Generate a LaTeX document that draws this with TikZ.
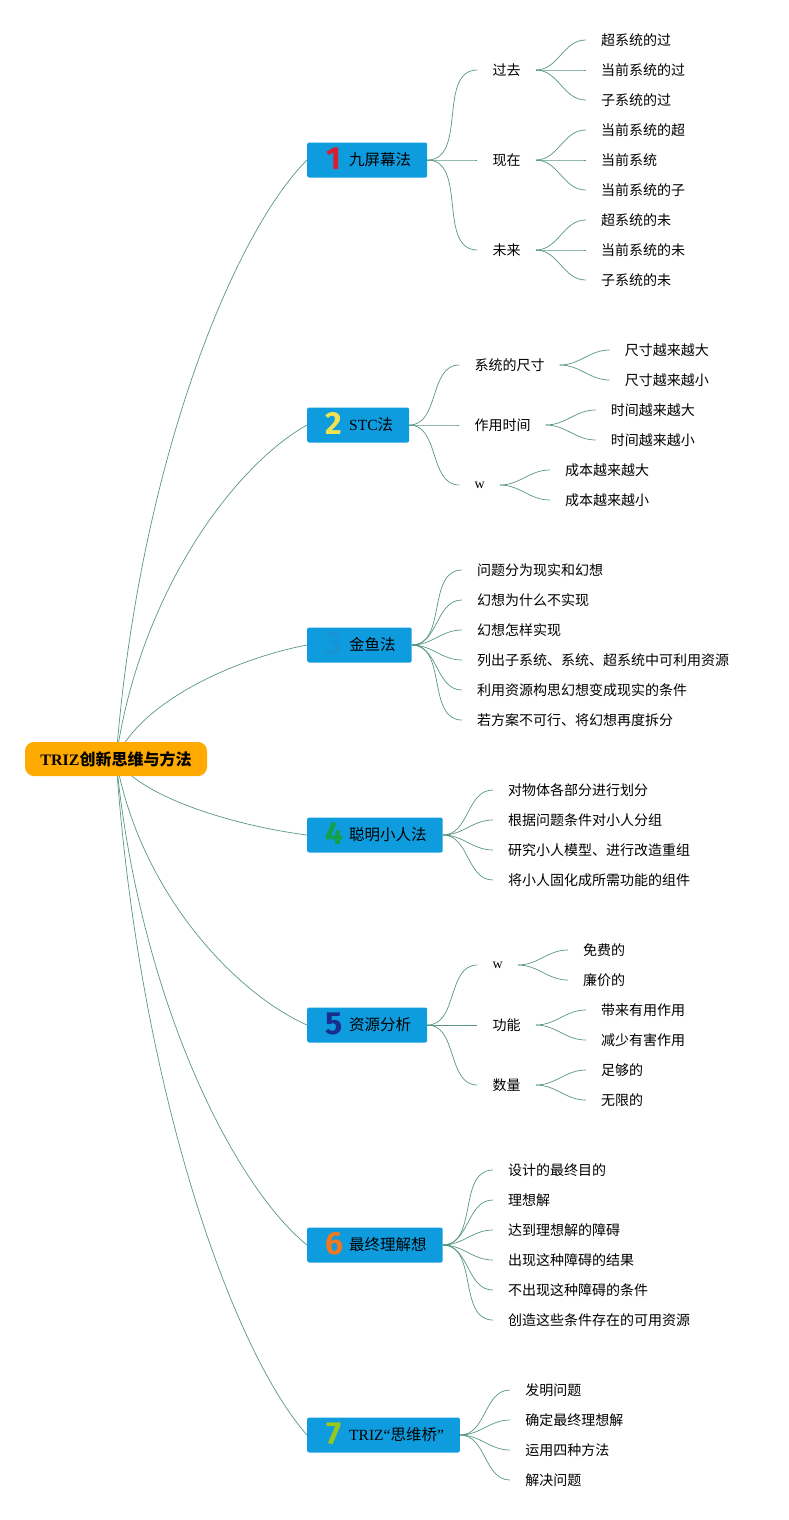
\documentclass[tikz,border=0pt]{standalone}
\usepackage{fontspec}
\setmainfont{Liberation Serif}
\newfontfamily\cjk{Noto Sans CJK SC}
\newfontfamily\numfont{Fira Sans}
\usetikzlibrary{calc,backgrounds}

\definecolor{linkc}{RGB}{88,150,128}
\definecolor{rootc}{RGB}{255,170,0}
\definecolor{boxc}{RGB}{14,156,222}
\definecolor{n1}{RGB}{214,32,48}
\definecolor{n2}{RGB}{240,226,80}
\definecolor{n3}{RGB}{22,148,214}
\definecolor{n4}{RGB}{20,160,70}
\definecolor{n5}{RGB}{25,45,140}
\definecolor{n6}{RGB}{240,120,30}
\definecolor{n7}{RGB}{150,200,30}

\newcommand\badge[2]{\makebox[22pt]{\smash{\raisebox{-3.5pt}{\numfont\bfseries\fontsize{32}{32}\selectfont\color{#1}#2}}}\hspace{4pt}}

\begin{document}
\begin{tikzpicture}[x=1pt,y=-1pt,
  link/.style={draw=linkc,line width=0.7pt},
  root/.style={fill=rootc,rounded corners=9pt,minimum width=182pt,minimum height=34pt,
    font=\fontsize{16}{18}\selectfont\bfseries},
  branch/.style={fill=boxc,rounded corners=2pt,anchor=west,minimum height=35pt,
    inner xsep=16pt,inner ysep=2pt,font=\fontsize{15.5}{18}\selectfont},
  leaf/.style={anchor=west,inner xsep=15pt,inner ysep=2pt,font=\cjk\fontsize{14}{16}\selectfont}]
  \useasboundingbox (0,0) rectangle (789,1520);

  \node[root] (root) at (116,759) {TRIZ{\cjk 创新思维与方法}};

  % main branches
  \node[branch] (b1) at (307,160)  {\badge{n1}{1}{\cjk 九屏幕法}};
  \node[branch] (b2) at (307,425)  {\badge{n2}{2}STC{\cjk 法}};
  \node[branch] (b3) at (307,645)  {\badge{n3}{3}{\cjk 金鱼法}};
  \node[branch] (b4) at (307,835)  {\badge{n4}{4}{\cjk 聪明小人法}};
  \node[branch] (b5) at (307,1025) {\badge{n5}{5}{\cjk 资源分析}};
  \node[branch] (b6) at (307,1245) {\badge{n6}{6}{\cjk 最终理解想}};
  \node[branch] (b7) at (307,1435) {\badge{n7}{7}TRIZ“{\cjk 思维桥}”};

  % second level
  \foreach \t [count=\i] in {过去,现在,未来}
    \node[leaf] (b1-\i) at ($(b1.east)+(50,{90*\i-180})$) {\t};
  \foreach \t [count=\i] in {系统的尺寸,作用时间,{\rmfamily w}}
    \node[leaf] (b2-\i) at ($(b2.east)+(50,{60*\i-120})$) {\t};
  \foreach \t [count=\i] in {问题分为现实和幻想,幻想为什么不实现,幻想怎样实现,
      列出子系统、系统、超系统中可利用资源,利用资源构思幻想变成现实的条件,若方案不可行、将幻想再度拆分}
    \node[leaf] (b3-\i) at ($(b3.east)+(50,{30*\i-105})$) {\t};
  \foreach \t [count=\i] in {对物体各部分进行划分,根据问题条件对小人分组,研究小人模型、进行改造重组,将小人固化成所需功能的组件}
    \node[leaf] (b4-\i) at ($(b4.east)+(50,{30*\i-75})$) {\t};
  \foreach \t [count=\i] in {{\rmfamily w},功能,数量}
    \node[leaf] (b5-\i) at ($(b5.east)+(50,{60*\i-120})$) {\t};
  \foreach \t [count=\i] in {设计的最终目的,理想解,达到理想解的障碍,出现这种障碍的结果,不出现这种障碍的条件,创造这些条件存在的可用资源}
    \node[leaf] (b6-\i) at ($(b6.east)+(50,{30*\i-105})$) {\t};
  \foreach \t [count=\i] in {发明问题,确定最终理想解,运用四种方法,解决问题}
    \node[leaf] (b7-\i) at ($(b7.east)+(50,{30*\i-75})$) {\t};

  % third level
  \foreach \t [count=\i] in {超系统的过,当前系统的过,子系统的过}
    \node[leaf] (b1-1-\i) at ($(b1-1.east)+(50,{30*\i-60})$) {\t};
  \foreach \t [count=\i] in {当前系统的超,当前系统,当前系统的子}
    \node[leaf] (b1-2-\i) at ($(b1-2.east)+(50,{30*\i-60})$) {\t};
  \foreach \t [count=\i] in {超系统的未,当前系统的未,子系统的未}
    \node[leaf] (b1-3-\i) at ($(b1-3.east)+(50,{30*\i-60})$) {\t};
  \foreach \t [count=\i] in {尺寸越来越大,尺寸越来越小}
    \node[leaf] (b2-1-\i) at ($(b2-1.east)+(50,{30*\i-45})$) {\t};
  \foreach \t [count=\i] in {时间越来越大,时间越来越小}
    \node[leaf] (b2-2-\i) at ($(b2-2.east)+(50,{30*\i-45})$) {\t};
  \foreach \t [count=\i] in {成本越来越大,成本越来越小}
    \node[leaf] (b2-3-\i) at ($(b2-3.east)+(50,{30*\i-45})$) {\t};
  \foreach \t [count=\i] in {免费的,廉价的}
    \node[leaf] (b5-1-\i) at ($(b5-1.east)+(50,{30*\i-45})$) {\t};
  \foreach \t [count=\i] in {带来有用作用,减少有害作用}
    \node[leaf] (b5-2-\i) at ($(b5-2.east)+(50,{30*\i-45})$) {\t};
  \foreach \t [count=\i] in {足够的,无限的}
    \node[leaf] (b5-3-\i) at ($(b5-3.east)+(50,{30*\i-45})$) {\t};

  \begin{scope}[on background layer]
    \foreach \i in {1,...,7}
      \draw[link] (root.center) .. controls ($(root.center)!0.5!(b\i.west)+(-72,0)$)
        and ($(root.center)!0.88!(b\i.west)+(-49,0)$) .. (b\i.west);
    \foreach \p/\n in {b1/3,b2/3,b3/6,b4/4,b5/3,b6/6,b7/4,
        b1-1/3,b1-2/3,b1-3/3,b2-1/2,b2-2/2,b2-3/2,b5-1/2,b5-2/2,b5-3/2}
      \foreach \i in {1,...,\n}
        \draw[link] (\p.east) to[out=0,in=180] (\p-\i.west);
  \end{scope}
\end{tikzpicture}
\end{document}
